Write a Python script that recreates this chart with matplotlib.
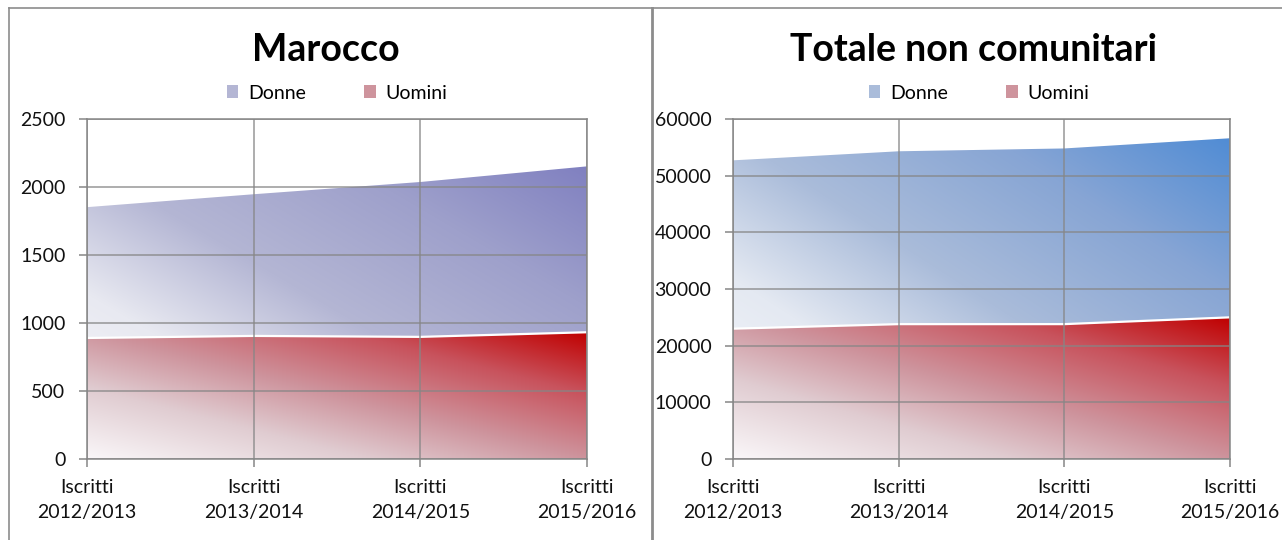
import numpy as np
import matplotlib
matplotlib.use("Agg")
import matplotlib.pyplot as plt
from matplotlib.patches import Patch
from matplotlib.lines import Line2D

categories = ["Iscritti\n2012/2013", "Iscritti\n2013/2014",
              "Iscritti\n2014/2015", "Iscritti\n2015/2016"]
marocco_donne = [1860, 1955, 2045, 2160]
marocco_uomini = [890, 905, 898, 932]
totale_donne = [52900, 54500, 55000, 56800]
totale_uomini = [23000, 23800, 23800, 25000]

plt.rcParams["font.family"] = ["Lato", "DejaVu Sans"]

W, H = 1282, 540
GRID = "#868686"

# gradient stops along the bottom-left -> top-right diagonal
STOP_POS = [0, 0.28, 0.5, 0.76, 1]
PURPLE = [(250, 250, 252), (232, 233, 241), (180, 182, 212),
          (158, 160, 203), (128, 128, 192)]
BLUE = [(248, 249, 252), (228, 233, 242), (170, 188, 218),
        (135, 165, 212), (80, 140, 213)]
RED = [(250, 247, 249), (224, 204, 209), (206, 148, 157),
       (200, 82, 92), (192, 0, 0)]


def gradient_area(ax, x, y, stops, zorder):
    poly = ax.fill_between(x, 0, y, facecolor="none", edgecolor="none",
                           zorder=zorder)
    xs = np.linspace(0, 1, 300)
    X, Y = np.meshgrid(xs, xs)
    t = (X + Y) / 2
    s = np.array(stops) / 255.0
    img = np.empty(t.shape + (3,))
    for c in range(3):
        img[..., c] = np.interp(t, STOP_POS, s[:, c])
    im = ax.imshow(img, extent=[x[0], x[-1], 0, max(y)], origin="lower",
                   aspect="auto", zorder=zorder, interpolation="bilinear")
    im.set_clip_path(poly.get_paths()[0], transform=ax.transData)
    ax.plot(x, y, color="white", lw=1.6, zorder=zorder + 0.1)


def panel(ax, donne, uomini, top_color, ymax, ystep):
    x = np.arange(len(categories))
    gradient_area(ax, x, donne, top_color, 1)
    gradient_area(ax, x, uomini, RED, 1.5)
    ax.set_xlim(x[0], x[-1])
    ax.set_ylim(0, ymax)
    ax.set_yticks(np.arange(0, ymax + 1, ystep))
    ax.set_xticks(x)
    ax.set_xticklabels(categories, linespacing=1.55)
    ax.grid(True, color=GRID, lw=1.1, alpha=0.85, zorder=3)
    ax.set_axisbelow(False)
    for sp in ax.spines.values():
        sp.set_color(GRID)
        sp.set_linewidth(1.1)
        sp.set_zorder(4)
    ax.tick_params(axis="both", direction="out", length=5.5, width=1.1,
                   color=GRID, labelsize=14, labelcolor="#111111")
    ax.tick_params(axis="x", pad=9)
    ax.tick_params(axis="y", pad=10)


fig = plt.figure(figsize=(W / 100, H / 100), dpi=100)

ax1 = fig.add_axes([87 / W, 1 - 459 / H, 500 / W, 340 / H])
panel(ax1, marocco_donne, marocco_uomini, PURPLE, 2500, 500)
ax2 = fig.add_axes([733 / W, 1 - 459 / H, 497 / W, 340 / H])
panel(ax2, totale_donne, totale_uomini, BLUE, 60000, 10000)

fig.text(326 / W, 1 - 50 / H, "Marocco", ha="center", va="center",
         fontsize=27, fontweight="bold")
fig.text(974 / W, 1 - 50 / H, "Totale non comunitari", ha="center",
         va="center", fontsize=27, fontweight="bold")

for cx, mid in [(337, PURPLE[2]), (979, BLUE[2])]:
    handles = [Patch(facecolor=np.array(mid) / 255.0, label="Donne"),
               Patch(facecolor=np.array(RED[2]) / 255.0, label="Uomini")]
    fig.legend(handles=handles, loc="center", ncol=2, frameon=False,
               bbox_to_anchor=(cx / W, 1 - 93 / H), fontsize=14,
               handlelength=0.6, handleheight=0.6, handletextpad=0.5,
               columnspacing=3.0)

# chart borders
bc = "#8c8c8c"
fig.add_artist(Line2D([9 / W, 9 / W], [0, 1 - 8 / H], color=bc, lw=1.2))
fig.add_artist(Line2D([9 / W, 1], [1 - 8 / H, 1 - 8 / H], color=bc, lw=1.2))
fig.add_artist(Line2D([651.5 / W, 651.5 / W], [0, 1 - 8 / H], color=bc, lw=2))

fig.savefig("out.png", dpi=100)
